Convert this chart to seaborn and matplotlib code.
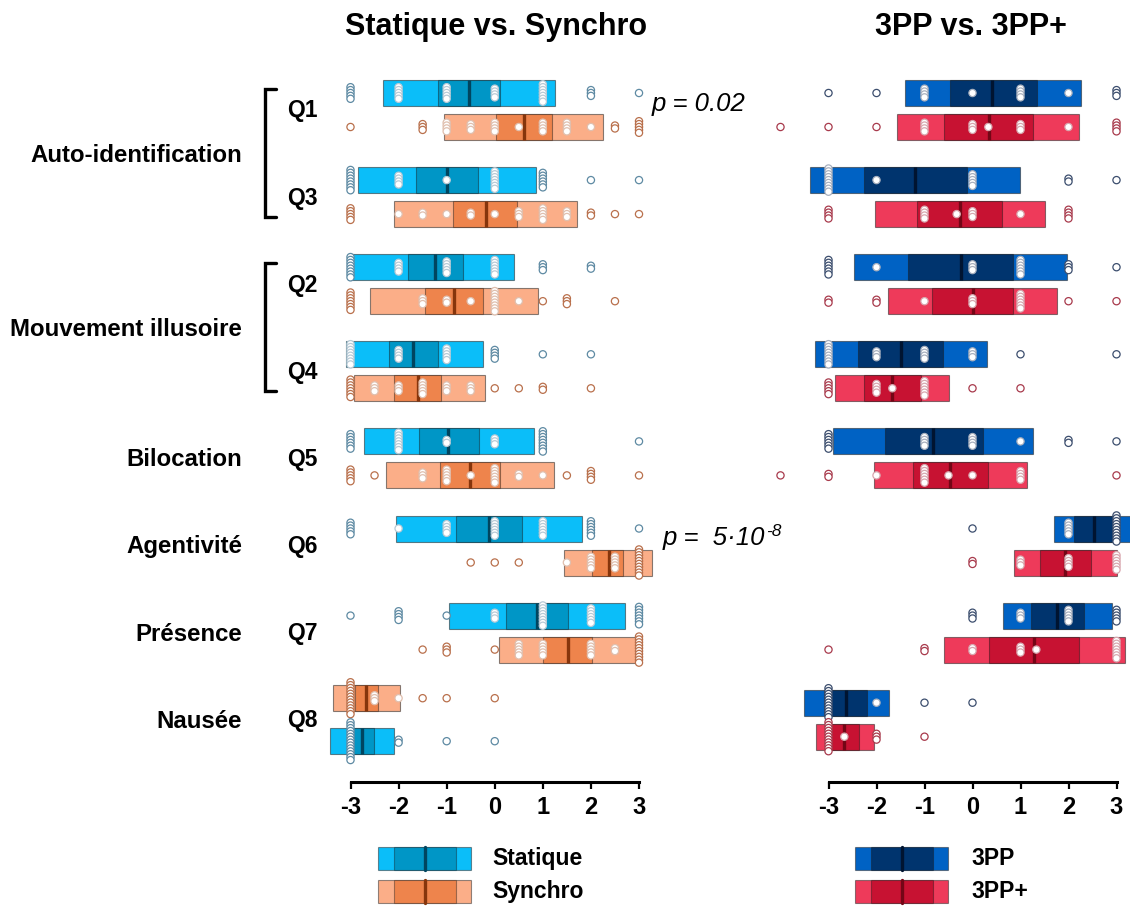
import numpy as np
import pandas as pd
import matplotlib
matplotlib.use("Agg")
import matplotlib.pyplot as plt
import matplotlib.colors as mcolors
from matplotlib.lines import Line2D
from matplotlib.patches import Rectangle
import seaborn as sns

# ---------------- data ----------------
questions = ["Q1", "Q3", "Q2", "Q4", "Q5", "Q6", "Q7", "Q8"]
group_labels = ["Auto-identification", "Mouvement illusoire", "Bilocation",
                "Agentivité", "Présence", "Nausée"]
group_members = [["Q1", "Q3"], ["Q2", "Q4"], ["Q5"], ["Q6"], ["Q7"], ["Q8"]]
panel_titles = ["Statique vs. Synchro", "3PP vs. 3PP+"]
legend_names = ["Statique", "Synchro", "3PP", "3PP+"]
tick_values = [-3, -2, -1, 0, 1, 2, 3]
tick_labels = ["-3", "-2", "-1", "0", "1", "2", "3"]

# box stats per question: [low, q1, median, q3, high]
statique_box = [[-2.33, -1.17, -0.54, 0.10, 1.26], [-2.84, -1.64, -1.00, -0.34, 0.855],
                [-2.97, -1.81, -1.24, -0.66, 0.40], [-3.10, -2.20, -1.70, -1.18, -0.25],
                [-2.72, -1.58, -0.97, -0.32, 0.81], [-2.05, -0.80, -0.11, 0.56, 1.81],
                [-0.96, 0.23, 0.88, 1.52, 2.70], [-3.42, -2.96, -2.76, -2.52, -2.09]]
statique_values = [[-3, -2, -1, 0, 1, 2, 3], [-3, -2, -1, 0, 1, 2, 3],
                   [-3, -2, -1, 0, 1, 2], [-3, -2, -1, 0, 1, 2],
                   [-3, -2, -1, 0, 1, 3], [-3, -2, -1, 0, 1, 2, 3],
                   [-3, -2, -1, 0, 1, 2, 3], [-3, -2, -1, 0]]
statique_counts = [[5, 5, 5, 4, 7, 3, 1], [8, 4, 1, 7, 6, 1, 1],
                   [8, 4, 5, 6, 3, 2], [8, 4, 5, 4, 1, 1],
                   [6, 7, 2, 3, 8, 1], [5, 1, 4, 6, 6, 6, 1],
                   [1, 4, 1, 3, 8, 6, 7], [14, 2, 1, 1]]

synchro_box = [[-1.05, 0.02, 0.61, 1.19, 2.26], [-2.09, -0.86, -0.19, 0.47, 1.71],
               [-2.60, -1.46, -0.85, -0.25, 0.89], [-2.92, -2.10, -1.59, -1.11, -0.21],
               [-2.26, -1.13, -0.51, 0.10, 1.24], [1.45, 2.03, 2.37, 2.67, 3.26],
               [0.09, 1.01, 1.52, 2.02, 2.95], [-3.37, -2.90, -2.67, -2.43, -1.98]]
synchro_values = [[-3, -1.5, -1, -0.5, 0, 0.5, 1, 1.5, 2, 2.5, 3],
                  [-3, -2, -1.5, -1, -0.5, 0, 0.5, 1, 1.5, 2, 2.5, 3],
                  [-3, -1.5, -1, -0.5, 0, 0.5, 1, 1.5, 2.5],
                  [-3, -2.5, -2, -1.5, -1, -0.5, 0, 0.5, 1, 2],
                  [-3, -2.5, -1.5, -1, -0.5, 0, 0.5, 1, 1.5, 2, 3],
                  [-0.5, 0, 0.5, 1.5, 2, 2.5, 3],
                  [-1.5, -1, 0, 0.5, 1, 2, 2.5, 3],
                  [-3, -2.5, -2, -1.5, -1, 0]]
synchro_counts = [[1, 3, 4, 3, 4, 1, 4, 4, 1, 2, 5],
                  [5, 1, 2, 1, 2, 1, 3, 5, 3, 2, 1, 1],
                  [7, 3, 2, 1, 8, 1, 1, 3, 1],
                  [7, 3, 3, 5, 3, 3, 1, 1, 2, 1],
                  [5, 1, 3, 5, 1, 6, 2, 1, 1, 4, 1],
                  [1, 1, 1, 1, 5, 5, 10],
                  [1, 3, 1, 5, 5, 5, 2, 10],
                  [12, 3, 1, 1, 1, 1]]

pp3_box = [[-1.40, -0.46, 0.41, 1.34, 2.26], [-3.38, -2.27, -1.20, -0.12, 0.98],
           [-2.47, -1.34, -0.24, 0.84, 1.97], [-3.29, -2.39, -1.49, -0.62, 0.30],
           [-2.91, -1.83, -0.82, 0.21, 1.27], [1.69, 2.11, 2.53, 2.98, 3.35],
           [0.64, 1.22, 1.76, 2.32, 2.90], [-3.52, -3.10, -2.63, -2.19, -1.74]]
pp3_values = [[-3, -2, -1, 0, 1, 2, 3], [-3, -2, 0, 2, 3], [-3, -2, 0, 1, 2, 3],
              [-3, -2, -1, 0, 1, 3], [-3, -1, 0, 1, 2, 3], [0, 2, 3],
              [0, 1, 2, 3], [-3, -2, -1, 0]]
pp3_counts = [[1, 1, 4, 1, 4, 1, 3], [9, 1, 5, 2, 1], [6, 1, 3, 6, 3, 1],
              [8, 3, 4, 3, 1, 1], [6, 4, 4, 1, 2, 1], [1, 5, 10],
              [3, 3, 5, 5], [11, 1, 1, 1]]

pp3plus_box = [[-1.57, -0.59, 0.34, 1.26, 2.22], [-2.04, -1.15, -0.26, 0.61, 1.50],
               [-1.76, -0.85, 0.00, 0.85, 1.76], [-2.86, -2.27, -1.68, -1.08, -0.48],
               [-2.06, -1.24, -0.46, 0.33, 1.13], [0.87, 1.41, 1.93, 2.46, 3.01],
               [-0.60, 0.35, 1.29, 2.21, 3.17], [-3.26, -2.94, -2.67, -2.37, -2.06]]
pp3plus_values = [[-4, -3, -2, -1, 0, 0.33, 1, 2, 3], [-3, -1, -0.33, 0, 1, 2],
                  [-3, -2, -1, 0, 1, 2, 3], [-3, -2, -1.67, -1, 0, 1],
                  [-4, -3, -2, -1, -0.5, 0, 1, 3], [0, 1, 2, 3],
                  [-3, -1, 0, 1, 1.33, 3], [-3, -2.67, -2, -1]]
pp3plus_counts = [[1, 1, 1, 4, 3, 1, 3, 1, 4], [4, 4, 1, 3, 1, 4],
                  [2, 2, 1, 3, 6, 1, 1], [5, 4, 1, 6, 1, 1],
                  [1, 2, 1, 6, 1, 1, 4, 1], [2, 3, 4, 6],
                  [1, 2, 2, 3, 1, 7], [11, 1, 3, 1]]

p_texts = ["p = 0.02", "p =  5\u00b710"]
p_exponent = "-8"

# ---------------- styles ----------------
styles = {
    "Statique": dict(light="#0BBEF9", mid="#0096C6", dark="#00455F", pt="#5E8AA3"),
    "Synchro": dict(light="#FBAE88", mid="#EE844C", dark="#86350C", pt="#B9704C"),
    "3PP": dict(light="#0062C4", mid="#00346E", dark="#001431", pt="#3C4E6E"),
    "3PP+": dict(light="#EE3A5A", mid="#C71232", dark="#740616", pt="#A83A4C"),
}

sns.set_theme(style="white")
plt.rcParams['font.family'] = ['Liberation Sans', 'DejaVu Sans']
plt.rcParams['axes.unicode_minus'] = False
plt.rcParams['text.color'] = 'black'
plt.rcParams['xtick.color'] = 'black'
plt.rcParams['xtick.labelcolor'] = 'black'

W, H = 1130, 906
fig = plt.figure(figsize=(W / 100, H / 100), dpi=100)
fig.patch.set_facecolor("white")


def fx(px):
    return px / W


def fy(py):
    return 1 - py / H


Y_TOP, Y_BOT = 55, 782
BOX_H = 26


def make_ax(x_m3, x_p3, xmin, xmax):
    ppu = (x_p3 - x_m3) / 6
    left = x_m3 + (xmin + 3) * ppu
    width = (xmax - xmin) * ppu
    ax = fig.add_axes([fx(left), fy(Y_BOT), width / W, (Y_BOT - Y_TOP) / H])
    ax.set_xlim(xmin, xmax)
    ax.set_ylim(Y_BOT, Y_TOP)
    ax.patch.set_alpha(0)
    for s in ["left", "top", "right"]:
        ax.spines[s].set_visible(False)
    ax.spines["bottom"].set_bounds(-3, 3)
    ax.spines["bottom"].set_linewidth(2.2)
    ax.spines["bottom"].set_color("black")
    ax.set_xticks(tick_values)
    ax.set_xticklabels(tick_labels, fontweight="bold", fontsize=17, color="black")
    ax.tick_params(axis="x", direction="out", length=5, width=1.6, pad=5,
                   colors="black", bottom=True)
    ax.set_yticks([])
    ax.grid(False)
    return ax


ax_l = make_ax(350.5, 639.0, -3.5, 3.5)
ax_r = make_ax(828.5, 1116.5, -3.6, 3.3)


def blend(c, w):
    r = np.array(mcolors.to_rgb(c))
    return tuple(r * (1 - w) + np.ones(3) * w)


def draw_box(ax, yc, stats, st):
    low, q1, med, q3, high = stats
    ax.barh(yc, high - low, left=low, height=BOX_H, color=st["light"],
            edgecolor=(0.15, 0.15, 0.15, 0.55), linewidth=0.8, zorder=2)
    ax.barh(yc, q3 - q1, left=q1, height=BOX_H, color=st["mid"],
            edgecolor=(0.1, 0.1, 0.1, 0.45), linewidth=0.8, zorder=3)
    ax.vlines(med, yc - BOX_H / 2, yc + BOX_H / 2, color=st["dark"], lw=2.4, zorder=4)


def collect_points(rows, yc, stats, vals, counts, st):
    low, high = stats[0], stats[4]
    for v, n in zip(vals, counts):
        offs = (np.arange(n) - (n - 1) / 2) * 2.9
        outside = (v < low) or (v > high) or (n >= 10)
        ec = st["pt"] if outside else blend(st["pt"], 0.55)
        for o in offs:
            rows.append(dict(x=v, y=yc + o, ec=ec))


def gcenter(g):
    return 110 + 87.1 * g


panels = [
    (ax_l, ("Statique", statique_box, statique_values, statique_counts),
     ("Synchro", synchro_box, synchro_values, synchro_counts)),
    (ax_r, ("3PP", pp3_box, pp3_values, pp3_counts),
     ("3PP+", pp3plus_box, pp3plus_values, pp3plus_counts)),
]

for pi, (ax, c1, c2) in enumerate(panels):
    rows = []
    for g, q in enumerate(questions):
        yc = gcenter(g)
        first, second = c1, c2
        off = 17
        if q == "Q8" and pi == 0:
            first, second = c2, c1
            off = 21.5
        for cond, y in ((first, yc - off), (second, yc + off)):
            name, box, vals, counts = cond
            st = styles[name]
            draw_box(ax, y, box[g], st)
            collect_points(rows, y, box[g], vals[g], counts[g], st)
    df = pd.DataFrame(rows)
    sns.scatterplot(data=df, x="x", y="y", ax=ax, color="white",
                    edgecolor=df["ec"].tolist(), s=27, linewidth=0.9,
                    legend=False, zorder=6, clip_on=False)
    ax.set_xlabel("")
    ax.set_ylabel("")
    ax.set_ylim(Y_BOT, Y_TOP)

# ---------------- texts ----------------
fig.text(fx(496), fy(35), panel_titles[0], fontsize=22, fontweight="bold",
         ha="center", va="baseline")
fig.text(fx(971), fy(35), panel_titles[1], fontsize=22, fontweight="bold",
         ha="center", va="baseline")

for lab, members in zip(group_labels, group_members):
    ys = [gcenter(questions.index(m)) for m in members]
    fig.text(fx(242), fy(np.mean(ys) + 8), lab, fontsize=17.3, fontweight="bold",
             ha="right", va="baseline")
    for m, y in zip(members, ys):
        fig.text(fx(287), fy(y + 7.5), m, fontsize=16.5, fontweight="bold",
                 ha="left", va="baseline")
    if len(members) == 2:
        y0, y1 = ys[0] - 21.5, ys[1] + 19.5
        fig.add_artist(Line2D([fx(276), fx(265), fx(265), fx(276)],
                              [fy(y0), fy(y0), fy(y1), fy(y1)],
                              color="black", lw=2.4, solid_joinstyle="miter"))

# p-values
fig.text(fx(652), fy(111.5), p_texts[0], fontsize=18.5, style="italic",
         ha="left", va="baseline")
t2 = fig.text(fx(663), fy(545), p_texts[1], fontsize=18.5, style="italic",
              ha="left", va="baseline")
r = fig.canvas.get_renderer()
bb = t2.get_window_extent(renderer=r)
fig.text((bb.x1 + 1) / W, fy(536), p_exponent, fontsize=12.5, style="italic",
         ha="left", va="baseline")


# ---------------- legend ----------------
def legend_box(x0, x1, y0, y1, st, label, tx):
    w = x1 - x0
    seg = w / 6
    fig.add_artist(Rectangle((fx(x0), fy(y1)), w / W, (y1 - y0) / H,
                             facecolor=st["light"], edgecolor=(0.15, 0.15, 0.15, 0.5),
                             lw=0.8))
    fig.add_artist(Rectangle((fx(x0 + seg), fy(y1)), (w - 2 * seg) / W, (y1 - y0) / H,
                             facecolor=st["mid"], edgecolor=(0.1, 0.1, 0.1, 0.4),
                             lw=0.8))
    xm = (x0 + x1) / 2
    fig.add_artist(Line2D([fx(xm), fx(xm)], [fy(y0), fy(y1)], color=st["dark"], lw=2.4))
    fig.text(fx(tx), fy((y0 + y1) / 2), label, fontsize=16.5, fontweight="bold",
             ha="left", va="center")


legend_box(378, 471, 846.5, 870, styles["Statique"], legend_names[0], 492)
legend_box(378, 471, 879.5, 903, styles["Synchro"], legend_names[1], 492)
legend_box(855, 948.5, 846.5, 870, styles["3PP"], legend_names[2], 971)
legend_box(855, 948.5, 879.5, 903, styles["3PP+"], legend_names[3], 971)

fig.savefig("out.png", dpi=100, facecolor="white")
